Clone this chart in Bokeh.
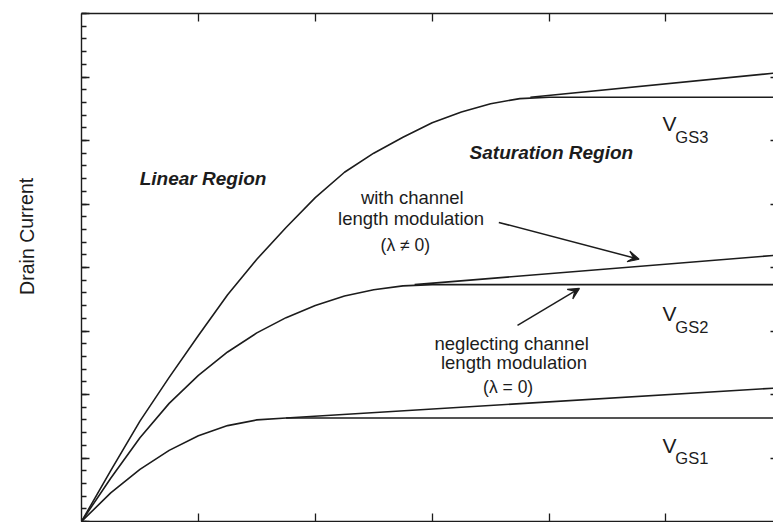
from bokeh.plotting import figure
from bokeh.layouts import row
from bokeh.models import (Range1d, LinearAxis, FixedTicker, Label, Arrow, VeeHead,
                          CustomJSTickFormatter)
from bokeh.embed import file_html
from bokeh.resources import INLINE

# ---------------- data ----------------
vds_1 = [0, 0.25, 0.5, 0.75, 1.0, 1.25, 1.5, 1.75, 5.92]
id_1 = [0, 0.45, 0.82, 1.12, 1.35, 1.51, 1.60, 1.63, 1.63]

vds_2 = [0, 0.25, 0.5, 0.75, 1.0, 1.25, 1.5, 1.75, 2.0, 2.25, 2.5, 2.75, 3.0, 5.92]
id_2 = [0, 0.68, 1.32, 1.86, 2.30, 2.67, 2.97, 3.21, 3.40, 3.55, 3.65, 3.71, 3.73, 3.73]

vds_3 = [0, 0.25, 0.5, 0.75, 1.0, 1.25, 1.5, 1.75, 2.0, 2.25, 2.5, 2.75, 3.0, 3.25,
         3.5, 3.75, 4.0, 5.92]
id_3 = [0, 0.80, 1.58, 2.27, 2.93, 3.57, 4.13, 4.63, 5.10, 5.50, 5.80, 6.05, 6.28,
        6.45, 6.58, 6.66, 6.68, 6.68]

# with channel length modulation (lambda != 0)
clm_vds_1 = [1.75, 5.92]
clm_id_1 = [1.63, 2.10]
clm_vds_2 = [2.85, 5.92]
clm_id_2 = [3.73, 4.19]
clm_vds_3 = [3.84, 5.92]
clm_id_3 = [6.68, 7.06]

x_ticks = [1, 2, 3, 4, 5]
y_ticks = [0, 1, 2, 3, 4, 5, 6, 7, 8]
y_minor = [i * 0.2 for i in range(41)]
right_ticks = [1, 2, 3, 4, 5, 6, 7]

vgs_names = ["GS1", "GS2", "GS3"]

# ---------------- figure ----------------
FONT = "Liberation Sans"
INK = "#1c1c1c"

p = figure(width=693, height=522, output_backend="svg", toolbar_location=None,
           x_range=Range1d(0, 5.92), y_range=Range1d(0, 8),
           x_axis_location=None, y_axis_location=None,
           min_border_left=1, min_border_top=13, min_border_bottom=1,
           min_border_right=0)
p.outline_line_color = None
p.grid.visible = False
p.background_fill_color = "white"
p.border_fill_color = "white"

blank = CustomJSTickFormatter(code="return ''")


def style_axis(ax, tin, minor_in=0):
    ax.formatter = blank
    ax.major_label_text_font_size = "0px"
    ax.major_label_standoff = 0
    ax.major_tick_out = 0
    ax.major_tick_in = tin
    ax.minor_tick_out = 0
    ax.minor_tick_in = minor_in
    ax.axis_line_color = INK
    ax.axis_line_width = 1.4
    ax.major_tick_line_color = INK
    ax.major_tick_line_width = 1.3
    ax.minor_tick_line_color = INK
    ax.minor_tick_line_width = 1.3


left = LinearAxis(ticker=FixedTicker(ticks=y_ticks, minor_ticks=y_minor))
style_axis(left, 8, 5)
p.add_layout(left, "left")

bottom = LinearAxis(ticker=FixedTicker(ticks=x_ticks, minor_ticks=[]))
style_axis(bottom, 8)
p.add_layout(bottom, "below")

top = LinearAxis(ticker=FixedTicker(ticks=x_ticks, minor_ticks=[]))
style_axis(top, 8)
p.add_layout(top, "above")

right = LinearAxis(ticker=FixedTicker(ticks=right_ticks, minor_ticks=[]))
style_axis(right, 3)
right.axis_line_color = None
p.add_layout(right, "right")

# ---------------- curves ----------------
for xs, ys in [(vds_1, id_1), (vds_2, id_2), (vds_3, id_3),
               (clm_vds_1, clm_id_1), (clm_vds_2, clm_id_2), (clm_vds_3, clm_id_3)]:
    p.line(xs, ys, line_color=INK, line_width=1.6, line_join="round")

# ---------------- texts ----------------
def lab(fig, x, y, text, size, style="normal", align="center", baseline="middle", angle=0):
    fig.add_layout(Label(x=x, y=y, text=text, text_font=FONT, text_font_size=size,
                         text_font_style=style, text_color=INK, text_align=align,
                         text_baseline=baseline, angle=angle))


lab(p, 1.04, 5.40, "Linear Region", "19px", "bold italic")
lab(p, 4.02, 5.815, "Saturation Region", "19px", "bold italic")

lab(p, 2.83, 5.10, "with channel", "18.5px")
lab(p, 2.82, 4.77, "length modulation", "18.5px")
lab(p, 2.77, 4.35, "(λ ≠ 0)", "17.5px")

lab(p, 3.68, 2.80, "neglecting channel", "18.5px")
lab(p, 3.70, 2.51, "length modulation", "18.5px")
lab(p, 3.65, 2.12, "(λ = 0)", "17.5px")

v_y = [1.20, 3.27, 6.27]
s_y = [1.00, 3.06, 6.05]
for name, vy, sy in zip(vgs_names, v_y, s_y):
    lab(p, 4.97, vy, "V", "21px", align="left")
    lab(p, 5.08, sy, name, "16.5px", align="left")

# ---------------- arrows ----------------
head = dict(size=11, line_color=INK, fill_color=INK, line_width=1.2)
p.add_layout(Arrow(end=VeeHead(**head), x_start=3.57, y_start=4.71, x_end=4.77, y_end=4.13,
                   line_color=INK, line_width=1.5))
p.add_layout(Arrow(end=VeeHead(**head), x_start=3.73, y_start=3.09, x_end=4.26, y_end=3.67,
                   line_color=INK, line_width=1.5))

# ---------------- y-axis title panel ----------------
lf = figure(width=80, height=522, output_backend="svg", toolbar_location=None,
            x_range=Range1d(0, 80), y_range=Range1d(0, 522),
            x_axis_location=None, y_axis_location=None,
            min_border=0)
lf.outline_line_color = None
lf.grid.visible = False
lab(lf, 26, 293, "Drain Current", "19.5px", angle=1.5708)

layout = row(lf, p, spacing=0)

open("out.html", "w").write(file_html(layout, INLINE))
